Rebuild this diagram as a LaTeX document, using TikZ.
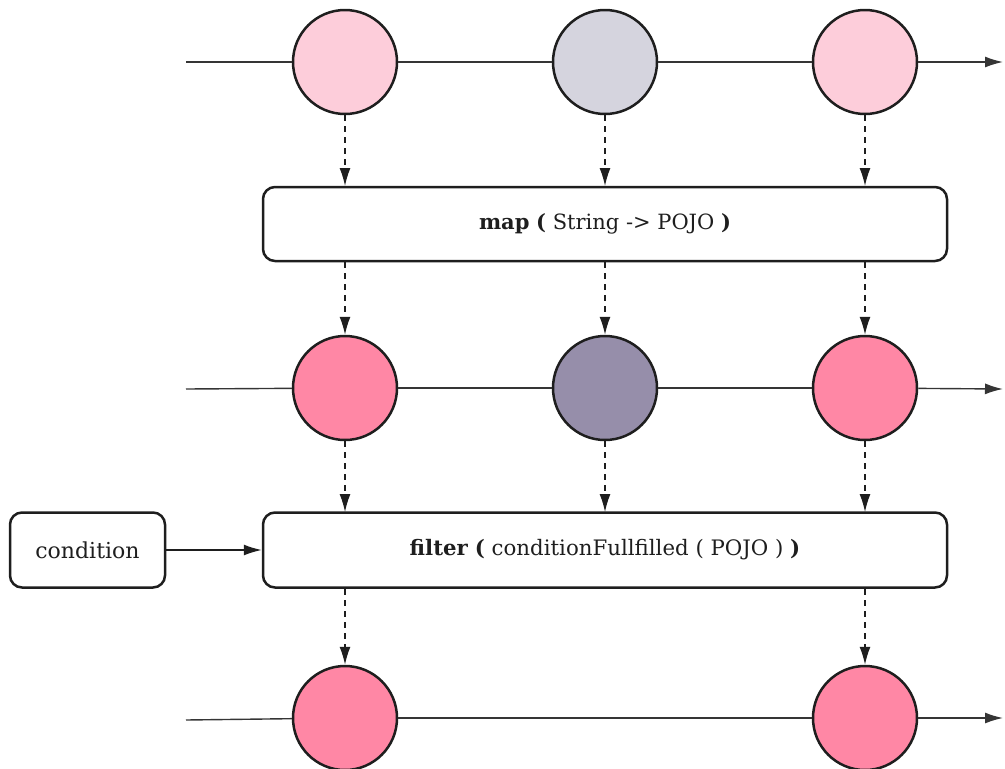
\documentclass[tikz,border=0pt]{standalone}
\usepackage{fontspec}
\setmainfont{DejaVu Serif}
\usetikzlibrary{arrows.meta}
\definecolor{lightpink}{RGB}{253,205,218}
\definecolor{lightgrey}{RGB}{213,212,222}
\definecolor{deeppink}{RGB}{255,135,165}
\definecolor{deepgrey}{RGB}{150,142,170}
\definecolor{ink}{RGB}{30,30,30}
\tikzset{
  marble/.style={circle, draw=ink, line width=2.5pt, minimum size=104pt, inner sep=0pt},
  opbox/.style={draw=ink, line width=2.5pt, rounded corners=12pt, inner sep=0pt, text=ink},
  timeline/.style={line width=1.4pt, draw=ink!90},
  flowarrow/.style={-{Latex[length=18pt,width=11pt]}},
  feed/.style={line width=1.3pt, draw=ink, dash pattern=on 6pt off 5pt, -{Latex[length=18pt,width=11pt]}},
}
\begin{document}
\begin{tikzpicture}[x=1pt,y=-1pt]
\useasboundingbox (0,0) rectangle (1005,769);

% source stream
\node[marble, fill=lightpink] (a1) at (345,62) {};
\node[marble, fill=lightgrey] (a2) at (605,62) {};
\node[marble, fill=lightpink] (a3) at (865,62) {};
\coordinate (a0) at (186,62);
\coordinate (a4) at (1003,62);
\draw[timeline] (a0) -- (a1);
\draw[timeline] (a1) -- (a2);
\draw[timeline] (a2) -- (a3);
\draw[timeline, flowarrow] (a3) -- (a4);

% map operator
\node[opbox, minimum width=684pt, minimum height=74pt] (map) at (605,224)
  {\fontsize{21}{25}\selectfont\textbf{map} \textbf{(} String -> POJO \textbf{)}};

% mapped stream
\node[marble, fill=deeppink] (b1) at (345,388) {};
\node[marble, fill=deepgrey] (b2) at (605,388) {};
\node[marble, fill=deeppink] (b3) at (865,388) {};
\coordinate (b0) at (186,389);
\coordinate (b4) at (1003,389);
\draw[timeline] (b0) -- (b1);
\draw[timeline] (b1) -- (b2);
\draw[timeline] (b2) -- (b3);
\draw[timeline, flowarrow] (b3) -- (b4);

% filter operator and its condition
\node[opbox, minimum width=684pt, minimum height=75pt] (filter) at (605,550)
  {\fontsize{21.3}{25}\selectfont\textbf{filter} \textbf{(} conditionFullfilled ( POJO ) \textbf{)}};
\node[opbox, minimum width=155pt, minimum height=75pt] (cond) at (87.5,550)
  {\fontsize{22}{26}\selectfont condition};
\draw[line width=1.4pt, draw=ink, flowarrow] (cond) -- (filter);

% filtered stream
\node[marble, fill=deeppink] (c1) at (345,718) {};
\node[marble, fill=deeppink] (c3) at (865,718) {};
\coordinate (c0) at (186,720);
\coordinate (c4) at (1003,718);
\draw[timeline] (c0) -- (c1);
\draw[timeline] (c1) -- (c3);
\draw[timeline, flowarrow] (c3) -- (c4);

% dashed feeds between stages
\foreach \s/\x in {a1/345,a2/605,a3/865}
  \draw[feed] (\s) -- (\x,186);
\foreach \t/\x in {b1/345,b2/605,b3/865}
  \draw[feed] (\x,262) -- (\t);
\foreach \s/\x in {b1/345,b2/605,b3/865}
  \draw[feed] (\s) -- (\x,512);
\foreach \t/\x in {c1/345,c3/865}
  \draw[feed] (\x,589) -- (\t);
\end{tikzpicture}
\end{document}
